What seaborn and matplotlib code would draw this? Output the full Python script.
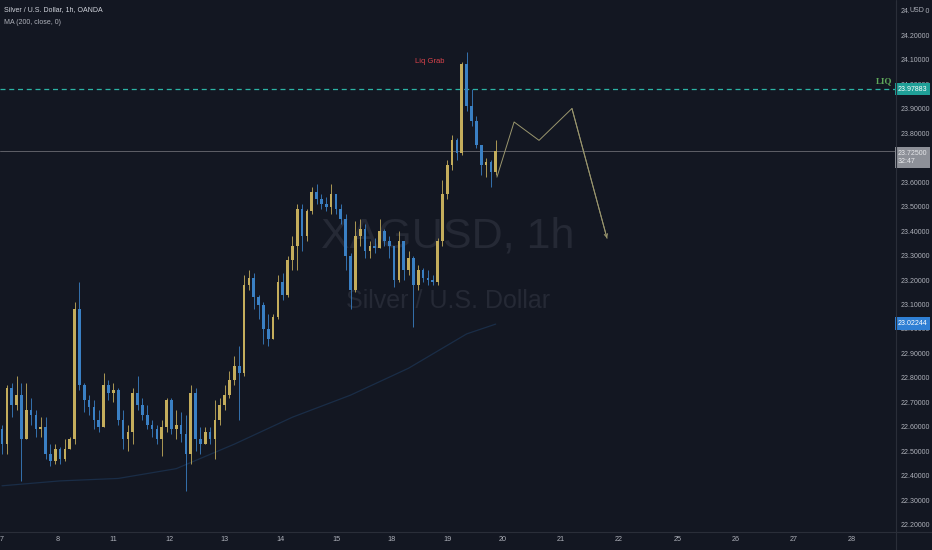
import numpy as np
import pandas as pd
import matplotlib
matplotlib.use("Agg")
import matplotlib.pyplot as plt
from matplotlib.lines import Line2D
import seaborn as sns

# XAGUSD candles, one bar per 2 hours (x = hours since the 7th, 00:00)
first_open = 22.59
closes = [22.53, 22.76, 22.69, 22.73, 22.55, 22.67, 22.65, 22.59, 22.60, 22.49,
          22.46, 22.51, 22.47, 22.51, 22.55, 23.08, 22.77, 22.71, 22.68, 22.63,
          22.60, 22.77, 22.74, 22.75, 22.63, 22.55, 22.58, 22.74, 22.69, 22.65,
          22.61, 22.59, 22.55, 22.60, 22.71, 22.59, 22.61, 22.57, 22.49, 22.74,
          22.55, 22.53, 22.58, 22.55, 22.63, 22.69, 22.73, 22.79, 22.85, 22.82,
          23.18, 23.21, 23.13, 23.10, 23.00, 22.96, 23.05, 23.19, 23.14, 23.28,
          23.34, 23.49, 23.38, 23.48, 23.56, 23.53, 23.51, 23.50, 23.55, 23.49,
          23.45, 23.30, 23.16, 23.38, 23.41, 23.32, 23.34, 23.33, 23.40, 23.36,
          23.34, 23.20, 23.36, 23.24, 23.29, 23.18, 23.24, 23.21, 23.20, 23.19,
          23.36, 23.55, 23.67, 23.77, 23.72, 24.08, 23.91, 23.85, 23.75, 23.67,
          23.68, 23.64, 23.725]
highs = [22.61, 22.77, 22.78, 22.81, 22.78, 22.78, 22.72, 22.67, 22.64, 22.64,
         22.53, 22.53, 22.52, 22.55, 22.56, 23.11, 23.19, 22.78, 22.73, 22.71,
         22.67, 22.82, 22.79, 22.78, 22.76, 22.67, 22.61, 22.76, 22.81, 22.72,
         22.69, 22.63, 22.61, 22.63, 22.72, 22.72, 22.67, 22.66, 22.65, 22.77,
         22.76, 22.60, 22.60, 22.60, 22.71, 22.72, 22.77, 22.83, 22.89, 22.93,
         23.22, 23.24, 23.23, 23.14, 23.11, 23.06, 23.06, 23.22, 23.23, 23.30,
         23.38, 23.51, 23.51, 23.49, 23.58, 23.59, 23.55, 23.54, 23.59, 23.54,
         23.51, 23.47, 23.31, 23.44, 23.45, 23.43, 23.36, 23.37, 23.45, 23.41,
         23.38, 23.34, 23.40, 23.36, 23.32, 23.30, 23.26, 23.25, 23.24, 23.22,
         23.37, 23.61, 23.69, 23.79, 23.78, 24.09, 24.13, 23.98, 23.87, 23.75,
         23.70, 23.69, 23.77]
lows = [22.49, 22.49, 22.64, 22.67, 22.38, 22.55, 22.61, 22.56, 22.56, 22.47,
        22.44, 22.45, 22.45, 22.46, 22.51, 22.53, 22.75, 22.66, 22.65, 22.59,
        22.58, 22.61, 22.71, 22.70, 22.61, 22.51, 22.50, 22.53, 22.67, 22.63,
        22.59, 22.56, 22.53, 22.48, 22.58, 22.57, 22.55, 22.54, 22.34, 22.45,
        22.50, 22.49, 22.53, 22.53, 22.47, 22.61, 22.67, 22.72, 22.77, 22.63,
        22.81, 23.16, 23.08, 23.04, 22.94, 22.93, 22.96, 23.04, 23.12, 23.13,
        23.24, 23.24, 23.32, 23.36, 23.47, 23.51, 23.49, 23.48, 23.47, 23.47,
        23.43, 23.24, 23.08, 23.15, 23.34, 23.29, 23.29, 23.31, 23.34, 23.34,
        23.29, 23.17, 23.19, 23.20, 23.22, 23.01, 23.16, 23.19, 23.18, 23.18,
        23.18, 23.34, 23.53, 23.65, 23.69, 23.71, 23.89, 23.83, 23.74, 23.63,
        23.62, 23.58, 23.63]

# MA(200) read at a few points
ma_hours = [0, 24, 48, 72, 96, 120, 144, 168, 192, 204]
ma_values = [22.36, 22.38, 22.39, 22.43, 22.53, 22.64, 22.73, 22.84, 22.98, 23.02]

# hand drawn projection path
proj_hours = [204.5, 211.6, 221.9, 235.5, 250]
proj_prices = [23.62, 23.845, 23.77, 23.90, 23.37]

day_labels = ['7', '8', '11', '12', '13', '14', '15', '18', '19',
              '20', '21', '22', '25', '26', '27', '28']
day_hours = [0, 23, 46, 69, 92, 115, 138, 161, 184, 207, 231, 255, 279, 303, 327, 351]

price_ticks = [22.2, 22.3, 22.4, 22.5, 22.6, 22.7, 22.8, 22.9, 23.0, 23.1, 23.2,
               23.3, 23.4, 23.5, 23.6, 23.7, 23.8, 23.9, 24.0, 24.1, 24.2, 24.3]
liq_level = 23.97883
last_price = 23.725
ma_last = 23.02244

BG = '#131722'
UP = '#c4ad5c'
DOWN = '#3a80c4'
TXT = '#aeb1ba'
LINE = '#2a2e39'

sns.set_theme(style='dark', rc={'axes.facecolor': BG, 'figure.facecolor': BG})
plt.rcParams['font.family'] = ['Liberation Sans', 'DejaVu Sans']

df = pd.DataFrame({'close': closes, 'high': highs, 'low': lows})
df['open'] = [first_open] + closes[:-1]
df['hour'] = np.arange(len(df)) * 2
df['up'] = df['close'] >= df['open']
df['color'] = np.where(df['up'], UP, DOWN)
df['body_lo'] = df[['open', 'close']].min(axis=1)
df['body_hi'] = df[['open', 'close']].max(axis=1)

fig = plt.figure(figsize=(9.32, 5.5), dpi=100)
ax = fig.add_axes([0, 18 / 550, 896 / 932, 532 / 550])
ax.set_facecolor(BG)

# watermark
ax.text(0.5, 0.555, 'XAGUSD, 1h', transform=ax.transAxes, ha='center', va='center',
        fontsize=31, color='#252935', zorder=0)
ax.text(0.5, 0.434, 'Silver / U.S. Dollar', transform=ax.transAxes, ha='center',
        va='center', fontsize=18, color='#252935', zorder=0)

# MA line
sns.lineplot(x=ma_hours, y=ma_values, ax=ax, color='#1a2d47', lw=0.9, zorder=1)

# levels
ax.axhline(liq_level, color='#2bb3a4', lw=0.9, ls=(0, (4, 3)), zorder=1)
ax.axhline(last_price, color='#5f6068', lw=0.7, zorder=1)

# candles
ax.vlines(df['hour'], np.minimum(df['low'], df['body_lo']),
          np.maximum(df['high'], df['body_hi']), colors=df['color'], lw=0.6, zorder=2)
ax.bar(df['hour'], (df['body_hi'] - df['body_lo']).clip(lower=0.006),
       bottom=df['body_lo'], width=1.1, color=df['color'], linewidth=0, zorder=3)

# projection
sns.lineplot(x=proj_hours, y=proj_prices, ax=ax, color='#9a966e', lw=0.7, zorder=4)
ax.annotate('', xy=(proj_hours[-1], proj_prices[-1]),
            xytext=(proj_hours[-2], proj_prices[-2]),
            arrowprops=dict(arrowstyle='->', color='#9a966e', lw=0.7,
                            mutation_scale=6, shrinkA=0, shrinkB=0), zorder=4)

ax.text(176.9, 24.09, 'Liq Grab', color='#d9434b', fontsize=5.5, ha='center', va='center')
ax.text(367.8, 24.01, 'LIQ', color='#5fa85a', fontsize=6.5, fontweight='bold',
        family='Liberation Serif', ha='right', va='center')

ax.set_xlim(-0.83, 369.4)
ax.set_ylim(22.1714, 24.3429)

ax.yaxis.tick_right()
ax.set_yticks(price_ticks)
# the 23.7 label sits under the last-price tag, as on the reference
ax.set_yticklabels(['' if abs(v - 23.7) < 1e-9 else f'{v:.5f}' for v in price_ticks])
ax.set_xticks(day_hours)
ax.set_xticklabels(day_labels)
ax.tick_params(axis='y', length=0, pad=3, labelsize=5, labelcolor=TXT)
ax.tick_params(axis='x', length=0, pad=3, labelsize=5.2, labelcolor=TXT)
ax.set_xlabel('')
ax.set_ylabel('')
ax.grid(False)
for s in ax.spines.values():
    s.set_visible(False)

# axis separators
fig.add_artist(Line2D([0, 1], [18 / 550, 18 / 550], color=LINE, lw=0.8))
fig.add_artist(Line2D([896 / 932, 896 / 932], [0, 1], color=LINE, lw=0.8))

# price tags on the scale
ytr = ax.get_yaxis_transform()
ax.text(1.002, liq_level, '23.97883', transform=ytr, ha='left', va='center',
        fontsize=5, color='white', clip_on=False, zorder=6,
        bbox=dict(boxstyle='square,pad=0.4', fc='#1f9f97', ec='none'))
ax.text(1.002, ma_last, '23.02244', transform=ytr, ha='left', va='center',
        fontsize=5, color='white', clip_on=False, zorder=6,
        bbox=dict(boxstyle='square,pad=0.4', fc='#2f7fd4', ec='none'))
ax.text(1.002, last_price - 0.025, f'{last_price:.5f}\n32:47', transform=ytr,
        ha='left', va='center', fontsize=5, color='#e6e7ea', clip_on=False,
        linespacing=1.25, zorder=6,
        bbox=dict(boxstyle='square,pad=0.4', fc='#8d9098', ec='none'))
fig.text(917 / 932, 1 - 10 / 550, 'USD', ha='center', va='center', fontsize=5,
         color=TXT, zorder=6, bbox=dict(boxstyle='square,pad=0.15', fc=BG, ec='none'))

# header
fig.text(4 / 932, 1 - 10 / 550, 'Silver / U.S. Dollar, 1h, OANDA', ha='left',
         va='center', fontsize=5, color='#d1d4dc')
fig.text(4 / 932, 1 - 22 / 550, 'MA (200, close, 0)', ha='left', va='center',
         fontsize=5, color=TXT)

fig.savefig('out.png', dpi=100, facecolor=BG)
